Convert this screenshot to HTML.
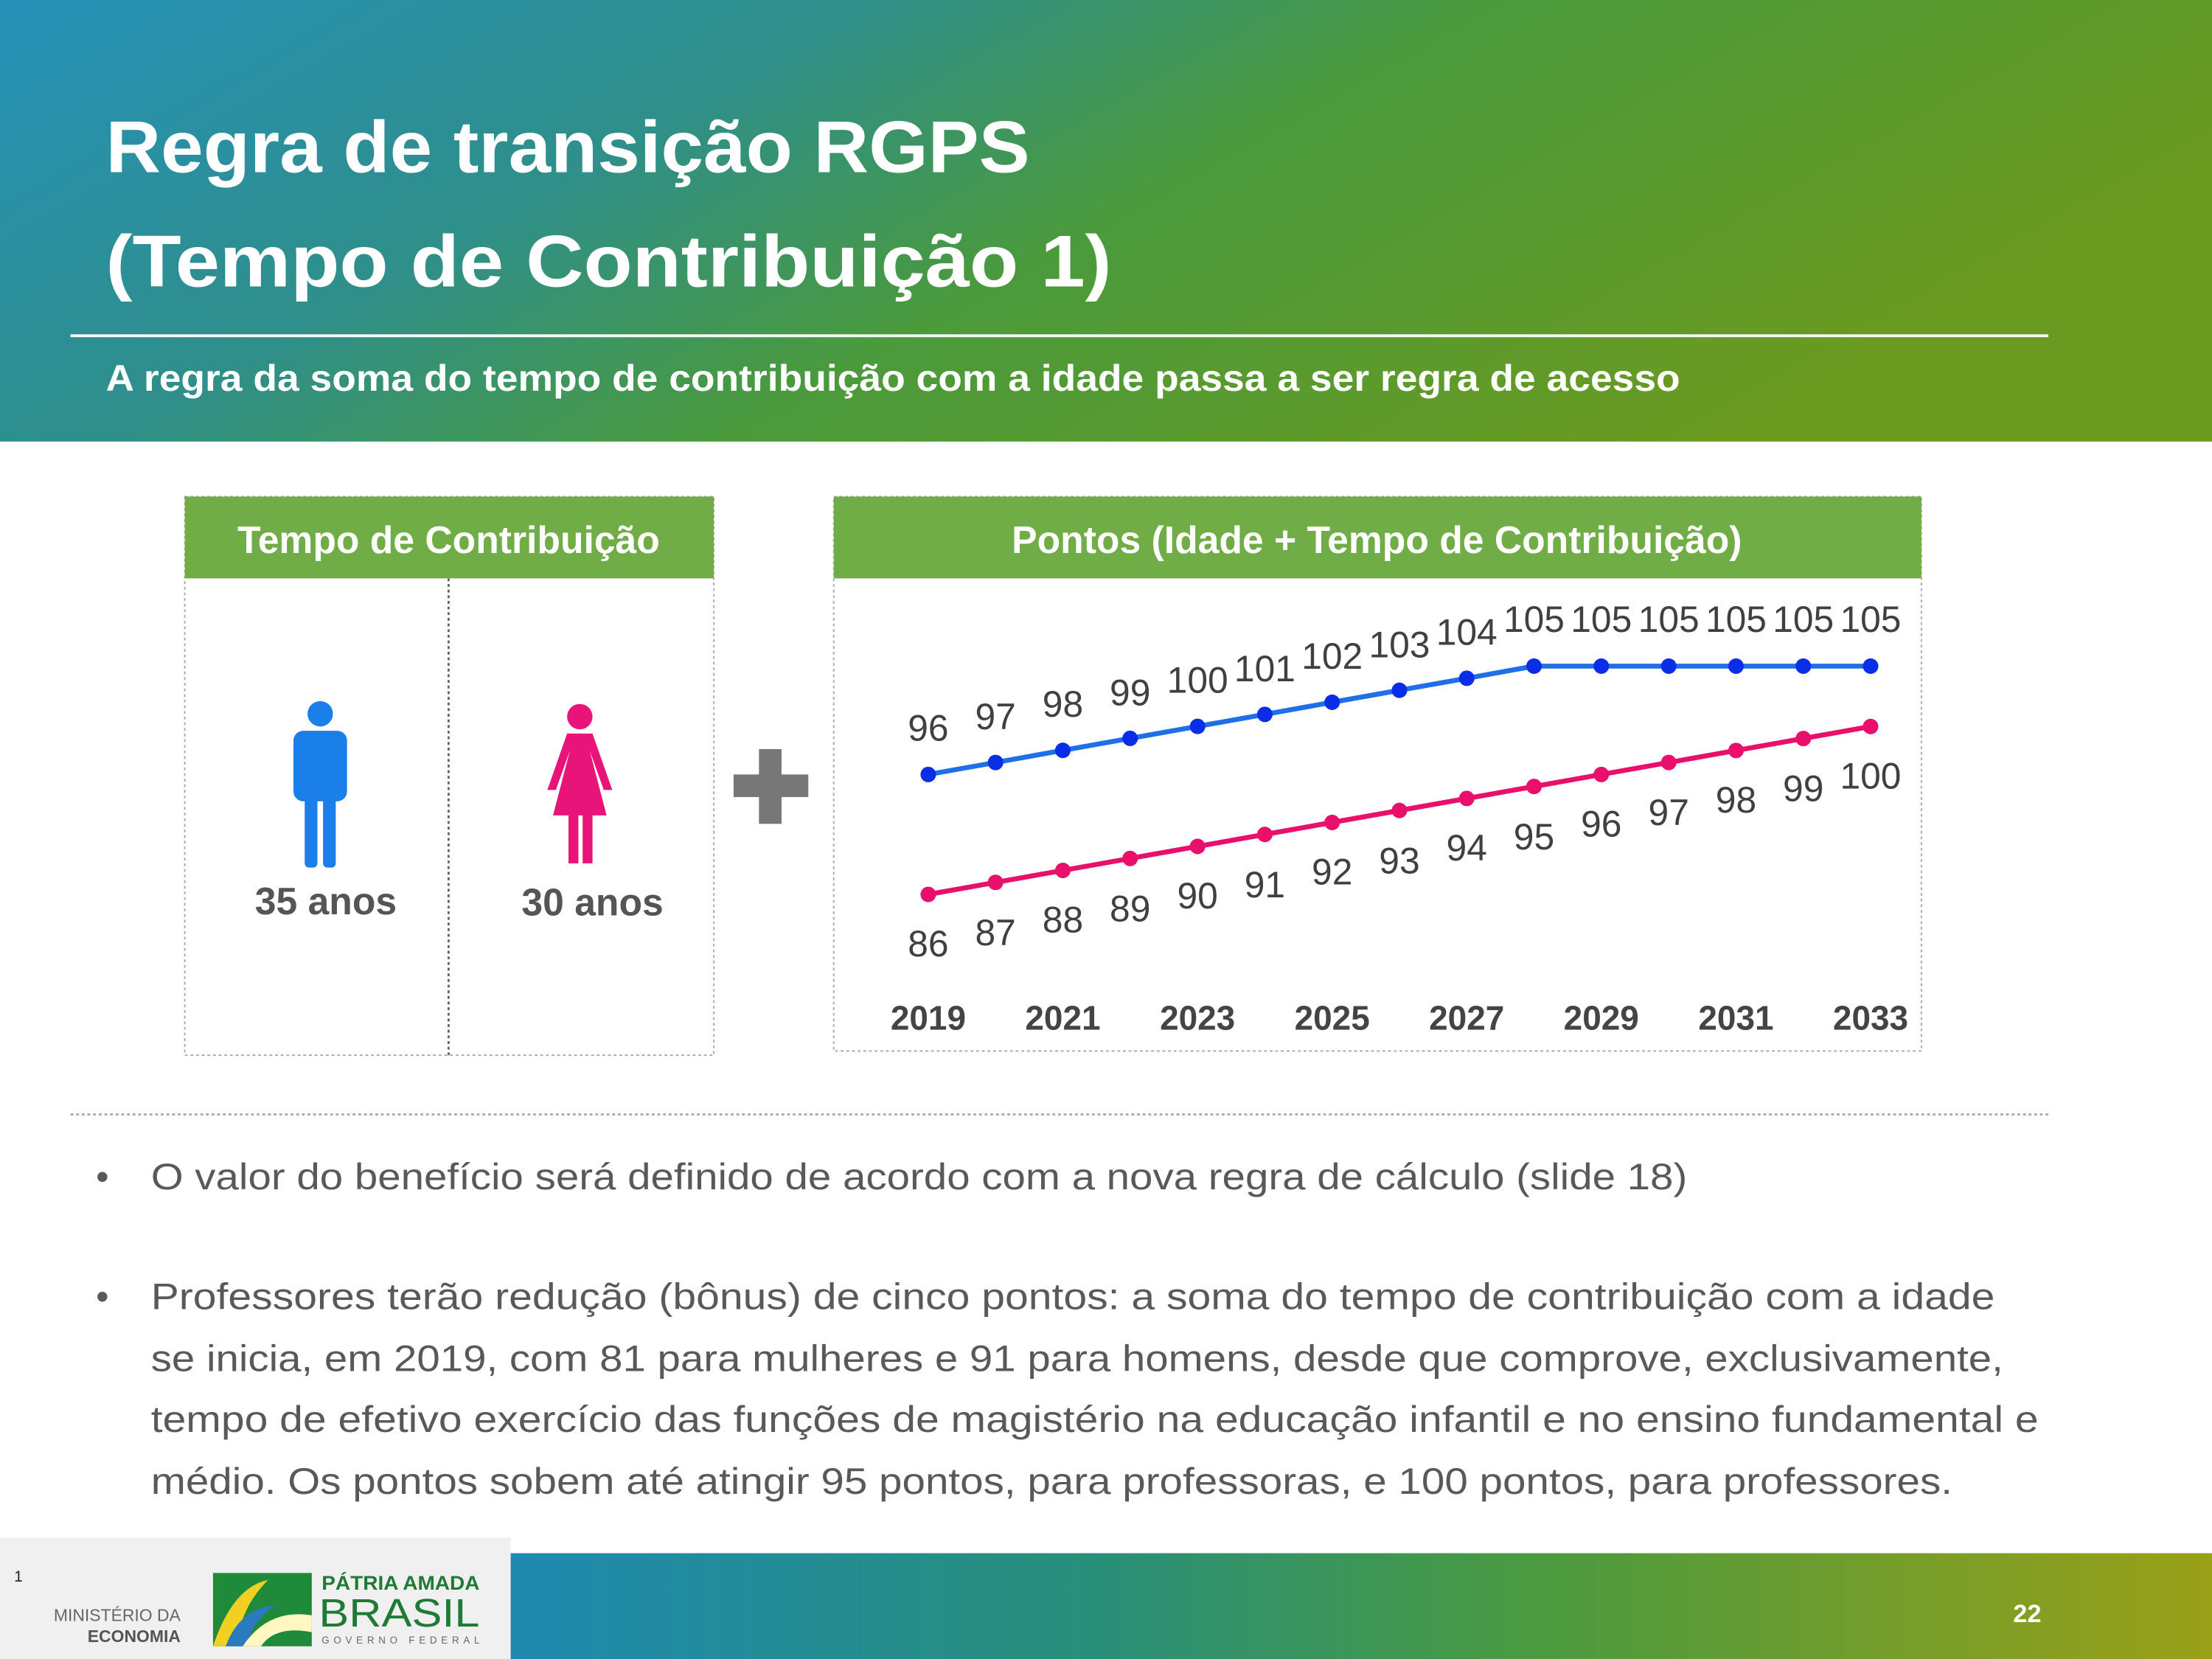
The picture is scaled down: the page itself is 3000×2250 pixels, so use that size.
<!DOCTYPE html>
<html><head><meta charset="utf-8"><style>html,body{margin:0;padding:0;background:#fff}svg{display:block}</style></head><body>
<svg width="3000" height="2250" viewBox="0 0 1568 1176" xmlns="http://www.w3.org/2000/svg" font-family="'Liberation Sans', sans-serif">
<defs>
<linearGradient id="hg" x1="0" y1="0" x2="1" y2="0.35">
<stop offset="0" stop-color="#2590b8"/><stop offset="0.35" stop-color="#2f8f8a"/><stop offset="0.6" stop-color="#4a9a3c"/><stop offset="1" stop-color="#6a9a20"/></linearGradient>
<linearGradient id="fg" x1="0" y1="0" x2="1" y2="0">
<stop offset="0" stop-color="#1f8ab0"/><stop offset="0.35" stop-color="#2a8f78"/><stop offset="0.6" stop-color="#4a9a40"/><stop offset="1" stop-color="#9aa018"/></linearGradient>
</defs>
<rect x="0" y="0" width="1568" height="313" fill="url(#hg)"/>
<g fill="#fff" font-weight="bold">
<text x="75" y="122" font-size="52" textLength="655" lengthAdjust="spacingAndGlyphs">Regra de transição RGPS</text>
<text x="75" y="203" font-size="52" textLength="713" lengthAdjust="spacingAndGlyphs">(Tempo de Contribuição 1)</text>
<text x="75" y="277" font-size="26" textLength="1116" lengthAdjust="spacingAndGlyphs">A regra da soma do tempo de contribuição com a idade passa a ser regra de acesso</text>
</g>
<rect x="50" y="237" width="1402" height="2" fill="#fff"/>

<rect x="131" y="352" width="375" height="396" fill="#fff" stroke="#aaa" stroke-dasharray="2,2"/>
<rect x="131" y="352" width="375" height="58" fill="#70ad47"/>
<text x="318" y="392" font-size="27" font-weight="bold" fill="#fff" text-anchor="middle">Tempo de Contribuição</text>
<line x1="318" y1="410" x2="318" y2="748" stroke="#666" stroke-dasharray="2,2" stroke-width="1.5"/>
<g fill="#1a7fe8">
<circle cx="227" cy="506" r="9"/>
<rect x="208" y="518" width="38" height="50" rx="7"/>
<rect x="216" y="540" width="9" height="75" rx="3"/>
<rect x="229" y="540" width="9" height="75" rx="3"/>
</g>
<g fill="#e8147a">
<circle cx="411" cy="508" r="9"/>
<path d="M402 520 H420 L434 560 H428 L418 532 L430 578 H392 L404 532 L394 560 H388 Z"/>
<rect x="403" y="575" width="7" height="37"/>
<rect x="413" y="575" width="7" height="37"/>
</g>
<g font-size="27" font-weight="bold" fill="#555" text-anchor="middle">
<text x="231" y="648">35 anos</text><text x="420" y="649">30 anos</text></g>
<rect x="520" y="549" width="53" height="16" fill="#777"/>
<rect x="538" y="531" width="16" height="53" fill="#777"/>

<rect x="591" y="352" width="771" height="393" fill="#fff" stroke="#aaa" stroke-dasharray="2,2"/>
<rect x="591" y="352" width="771" height="58" fill="#70ad47"/>
<text x="976" y="392" font-size="27" font-weight="bold" fill="#fff" text-anchor="middle">Pontos (Idade + Tempo de Contribuição)</text>
<polyline fill="none" stroke="#1f6fe8" stroke-width="3.5" points="658,549 705.7,540.5 753.4,531.9 801.1,523.4 848.9,514.9 896.6,506.4 944.3,497.8 992,489.3 1039.7,480.8 1087.4,472.2 1135.1,472.2 1182.9,472.2 1230.6,472.2 1278.3,472.2 1326,472.2"/>
<g fill="#0a2ee8">
<circle cx="658" cy="549" r="5.5"/><circle cx="705.7" cy="540.5" r="5.5"/><circle cx="753.4" cy="531.9" r="5.5"/><circle cx="801.1" cy="523.4" r="5.5"/><circle cx="848.9" cy="514.9" r="5.5"/><circle cx="896.6" cy="506.4" r="5.5"/><circle cx="944.3" cy="497.8" r="5.5"/><circle cx="992" cy="489.3" r="5.5"/><circle cx="1039.7" cy="480.8" r="5.5"/><circle cx="1087.4" cy="472.2" r="5.5"/><circle cx="1135.1" cy="472.2" r="5.5"/><circle cx="1182.9" cy="472.2" r="5.5"/><circle cx="1230.6" cy="472.2" r="5.5"/><circle cx="1278.3" cy="472.2" r="5.5"/><circle cx="1326" cy="472.2" r="5.5"/>
</g>
<polyline fill="none" stroke="#e8106a" stroke-width="3.5" points="658,634 705.7,625.5 753.4,617 801.1,608.5 848.9,600 896.6,591.5 944.3,583 992,574.5 1039.7,566 1087.4,557.5 1135.1,549 1182.9,540.5 1230.6,532 1278.3,523.5 1326,515"/>
<g fill="#e8106a">
<circle cx="658" cy="634" r="5.5"/><circle cx="705.7" cy="625.5" r="5.5"/><circle cx="753.4" cy="617" r="5.5"/><circle cx="801.1" cy="608.5" r="5.5"/><circle cx="848.9" cy="600" r="5.5"/><circle cx="896.6" cy="591.5" r="5.5"/><circle cx="944.3" cy="583" r="5.5"/><circle cx="992" cy="574.5" r="5.5"/><circle cx="1039.7" cy="566" r="5.5"/><circle cx="1087.4" cy="557.5" r="5.5"/><circle cx="1135.1" cy="549" r="5.5"/><circle cx="1182.9" cy="540.5" r="5.5"/><circle cx="1230.6" cy="532" r="5.5"/><circle cx="1278.3" cy="523.5" r="5.5"/><circle cx="1326" cy="515" r="5.5"/>
</g>
<g font-size="26" fill="#404040" text-anchor="middle">
<text x="658" y="525">96</text><text x="705.7" y="517">97</text><text x="753.4" y="508">98</text><text x="801.1" y="500">99</text><text x="848.9" y="491">100</text><text x="896.6" y="483">101</text><text x="944.3" y="474">102</text><text x="992" y="466">103</text><text x="1039.7" y="457">104</text><text x="1087.4" y="448">105</text><text x="1135.1" y="448">105</text><text x="1182.9" y="448">105</text><text x="1230.6" y="448">105</text><text x="1278.3" y="448">105</text><text x="1326" y="448">105</text>
<text x="658" y="678">86</text><text x="705.7" y="670">87</text><text x="753.4" y="661">88</text><text x="801.1" y="653">89</text><text x="848.9" y="644">90</text><text x="896.6" y="636">91</text><text x="944.3" y="627">92</text><text x="992" y="619">93</text><text x="1039.7" y="610">94</text><text x="1087.4" y="602">95</text><text x="1135.1" y="593">96</text><text x="1182.9" y="585">97</text><text x="1230.6" y="576">98</text><text x="1278.3" y="568">99</text><text x="1326" y="559">100</text>
</g>
<g font-size="24" font-weight="bold" fill="#444" text-anchor="middle">
<text x="658" y="730">2019</text><text x="753.4" y="730">2021</text><text x="848.9" y="730">2023</text><text x="944.3" y="730">2025</text><text x="1039.7" y="730">2027</text><text x="1135.1" y="730">2029</text><text x="1230.6" y="730">2031</text><text x="1326" y="730">2033</text>
</g>

<line x1="50" y1="790" x2="1452" y2="790" stroke="#aaa" stroke-dasharray="2,2" stroke-width="1.5"/>
<g font-size="26" fill="#595959" lengthAdjust="spacingAndGlyphs">
<text x="68" y="843">•</text><text x="107" y="843" textLength="1089" lengthAdjust="spacingAndGlyphs">O valor do benefício será definido de acordo com a nova regra de cálculo (slide 18)</text>
<text x="68" y="928">•</text><text x="107" y="928" textLength="1307" lengthAdjust="spacingAndGlyphs">Professores terão redução (bônus) de cinco pontos:  a soma do tempo de contribuição com a idade</text>
<text x="107" y="972" textLength="1313" lengthAdjust="spacingAndGlyphs">se inicia, em 2019, com 81 para mulheres e 91 para homens, desde que comprove, exclusivamente,</text>
<text x="107" y="1015" textLength="1338" lengthAdjust="spacingAndGlyphs">tempo de efetivo exercício das funções de magistério na educação infantil e no ensino fundamental e</text>
<text x="107" y="1059" textLength="1277" lengthAdjust="spacingAndGlyphs">médio. Os pontos sobem até atingir 95 pontos, para professoras, e 100 pontos, para professores.</text>
</g>

<rect x="0" y="1090" width="362" height="86" fill="#f0f0f0"/>
<rect x="362" y="1101" width="1206" height="75" fill="url(#fg)"/>
<text x="1437" y="1150" font-size="18" font-weight="bold" fill="#fff" text-anchor="middle">22</text>
<text x="10" y="1121" font-size="11" fill="#222">1</text>
<text x="128" y="1149" font-size="12" fill="#666" text-anchor="end">MINISTÉRIO DA</text>
<text x="128" y="1164" font-size="12" font-weight="bold" fill="#555" text-anchor="end">ECONOMIA</text>
<rect x="151" y="1115" width="70" height="52" fill="#1e8a3a"/>
<path d="M151 1167 Q165 1125 190 1120 Q170 1140 168 1167 Z" fill="#f0d020"/>
<path d="M160 1167 Q170 1140 195 1138 Q178 1150 175 1167 Z" fill="#2a7ac0"/>
<path d="M172 1167 Q190 1140 221 1145 L221 1157 Q195 1152 185 1167 Z" fill="#fff8c0"/>
<text x="228" y="1127" font-size="14" font-weight="bold" fill="#1e7a35" textLength="112" lengthAdjust="spacingAndGlyphs">PÁTRIA AMADA</text>
<text x="226" y="1153" font-size="28" fill="#1e7a35" textLength="114" lengthAdjust="spacingAndGlyphs">BRASIL</text>
<text x="228" y="1165" font-size="7" fill="#666" textLength="112" lengthAdjust="spacing">GOVERNO FEDERAL</text>
</svg>
</body></html>
